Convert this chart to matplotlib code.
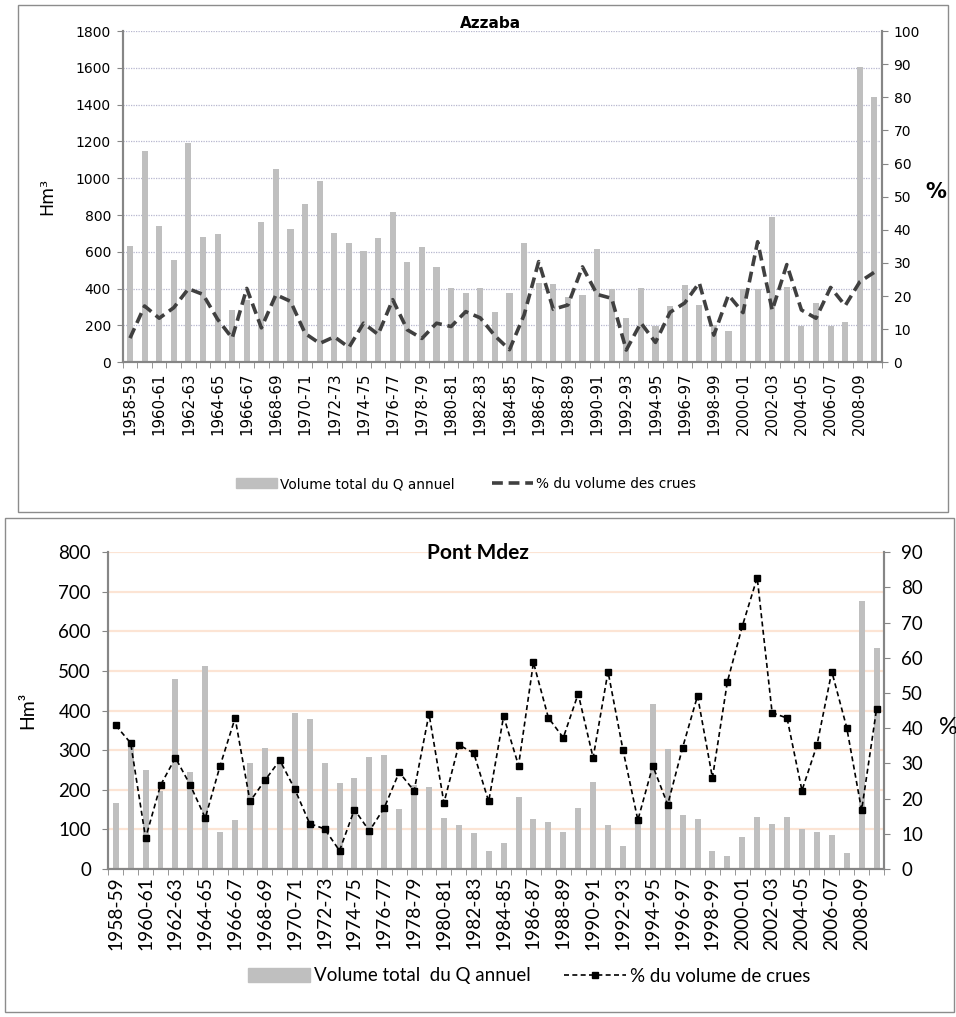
import numpy as np
import matplotlib
matplotlib.use("Agg")
import matplotlib.pyplot as plt
from matplotlib.patches import Rectangle, Patch
from matplotlib.lines import Line2D

# hydrological years 1958-59 .. 2009-10
years = [f"{y}-{str(y + 1)[2:]}" for y in range(1958, 2010)]

# Azzaba: annual volume (Hm3) and share of flood volume (%)
azz_vol = [631, 1148, 740, 555, 1191, 680, 697, 285, 340, 762,
           1050, 724, 860, 985, 702, 648, 606, 675, 816, 545,
           626, 517, 405, 378, 405, 273, 378, 648, 430, 426,
           357, 367, 615, 400, 240, 405, 198, 306, 421, 312,
           200, 170, 400, 400, 789, 411, 198, 322, 198, 218,
           1604, 1441]
azz_pct = [7.3, 17.0, 13.3, 16.5, 22.2, 20.5, 13.0, 7.3, 22.3, 10.4,
           20.4, 18.4, 8.7, 5.7, 7.7, 4.5, 11.8, 8.4, 18.9, 9.8,
           7.2, 11.8, 10.8, 15.3, 13.4, 8.0, 3.8, 14.3, 30.4, 16.0,
           17.3, 28.8, 20.5, 19.3, 3.7, 11.9, 6.0, 15.1, 17.9, 24.0,
           8.2, 20.3, 15.0, 36.4, 15.7, 29.5, 15.8, 13.3, 22.6, 17.1,
           24.3, 27.2]

# Pont Mdez
pm_vol = [166, 320, 250, 198, 479, 246, 513, 93, 123, 267,
          306, 270, 393, 379, 267, 216, 229, 284, 288, 152,
          212, 207, 130, 110, 90, 45, 66, 183, 127, 118,
          93, 153, 220, 110, 58, 127, 417, 302, 136, 126,
          46, 33, 80, 131, 114, 131, 102, 93, 85, 41,
          676, 557]
pm_pct = [40.8, 35.8, 8.8, 23.8, 31.6, 23.8, 14.5, 29.4, 42.9, 19.2,
          25.2, 30.9, 22.7, 12.9, 11.4, 5.2, 16.9, 10.8, 17.4, 27.5,
          22.2, 44.1, 18.8, 35.3, 32.9, 19.2, 43.4, 29.4, 58.7, 43.0,
          37.3, 49.8, 31.6, 56.1, 33.9, 13.9, 29.3, 18.3, 34.5, 49.2,
          25.9, 53.2, 69.0, 82.8, 44.4, 42.9, 22.3, 35.1, 56.1, 40.2,
          16.7, 45.4]

W, H = 956, 1017
fig = plt.figure(figsize=(W / 100, H / 100), dpi=100)
x = np.arange(len(years))
bar_c = "#BFBFBF"
spine_c = "#868686"


def px_axes(l, t, r, b):
    return fig.add_axes([l / W, 1 - b / H, (r - l) / W, (b - t) / H])


def style(ax, ax2, fam, fs, xfs, ypad, xpad):
    ax.set_xlim(-0.5, len(years) - 0.5)
    ax.set_xticks(x[::2])
    ax.set_xticklabels(years[::2], rotation=90, fontsize=xfs, family=fam)
    ax.set_xticks(np.arange(-0.5, len(years)), minor=True)
    ax.tick_params(axis="x", which="major", length=0, pad=xpad)
    ax.tick_params(axis="x", which="minor", length=4.5, color=spine_c)
    for a in (ax, ax2):
        a.spines["top"].set_visible(False)
        for s in ("left", "right", "bottom"):
            a.spines[s].set_color(spine_c)
            a.spines[s].set_linewidth(1.5)
        a.tick_params(axis="y", length=4.5, color=spine_c, labelsize=fs, pad=ypad)
        for t in a.get_yticklabels():
            t.set_family(fam)
    ax.set_axisbelow(True)


# ---- Azzaba ----
fig.add_artist(Rectangle((18 / W, 1 - 512 / H), 930 / W, 507 / H, transform=fig.transFigure,
                         fill=False, edgecolor="#8C8C8C", linewidth=1))
ax = px_axes(122.7, 31, 881.7, 362.3)
ax2 = ax.twinx()
ax.bar(x, azz_vol, width=0.42, color=bar_c, zorder=2)
ax2.plot(x, azz_pct, color="#404040", linestyle=(0, (3, 1.6)), linewidth=2.6)
ax.set_ylim(0, 1800)
ax.set_yticks(range(0, 1801, 200))
ax2.set_ylim(0, 100)
ax2.set_yticks(range(0, 101, 10))
ax.yaxis.grid(True, linestyle=(0, (1, 1)), color="#B7B7CF", linewidth=0.9)
style(ax, ax2, "DejaVu Sans", 10, 10.8, 4, 7)
ax.set_ylabel("Hm³", fontsize=12.5, labelpad=14)
fig.text(936 / W, 1 - 192 / H, "%", ha="center", va="center", fontsize=15, fontweight="bold")
fig.text(490 / W, 1 - 24 / H, "Azzaba", ha="center", va="center", fontsize=11, fontweight="bold")
h1 = [Patch(color=bar_c),
      Line2D([], [], color="#404040", linestyle=(0, (3, 1.6)), linewidth=2.6)]
fig.legend(h1, ["Volume total du Q annuel", "% du volume des crues"], loc="center",
           bbox_to_anchor=(466 / W, 1 - 484 / H), ncol=2, frameon=False, fontsize=9.8,
           handlelength=3.0, handletextpad=0.2, columnspacing=2.8)

# ---- Pont Mdez ----
fig.add_artist(Rectangle((5 / W, 1 - 1012 / H), 949 / W, 494 / H, transform=fig.transFigure,
                         fill=False, edgecolor="#8C8C8C", linewidth=1))
bx = px_axes(108.3, 552.3, 884, 869)
bx2 = bx.twinx()
bx.bar(x, pm_vol, width=0.4, color=bar_c, zorder=2)
bx2.plot(x, pm_pct, color="black", linestyle=(0, (3, 2)), linewidth=1.2,
         marker="s", markersize=3.8)
bx.set_ylim(0, 800)
bx.set_yticks(range(0, 801, 100))
bx2.set_ylim(0, 90)
bx2.set_yticks(range(0, 91, 10))
bx.yaxis.grid(True, color="#FCE4D4", linewidth=1.6)
style(bx, bx2, "Lato", 13.5, 13.8, 8, 5)
bx.set_ylabel("Hm³", fontsize=14, family="Lato", labelpad=16)
fig.text(948 / W, 1 - 728 / H, "%", ha="center", va="center", fontsize=17, family="Lato")
fig.text(478 / W, 1 - 553 / H, "Pont Mdez", ha="center", va="center", fontsize=15,
         fontweight="bold", family="Lato")
h2 = [Patch(color=bar_c),
      Line2D([], [], color="black", linestyle=(0, (3, 2)), linewidth=1.2, marker="s", markersize=3.8)]
fig.legend(h2, ["Volume total  du Q annuel", "% du volume de crues"], loc="center",
           bbox_to_anchor=(529 / W, 1 - 976 / H), ncol=2, frameon=False,
           prop={"family": "Lato", "size": 13.5},
           handlelength=3.3, handletextpad=0.2, columnspacing=1.8)

fig.savefig("out.png", dpi=100)
